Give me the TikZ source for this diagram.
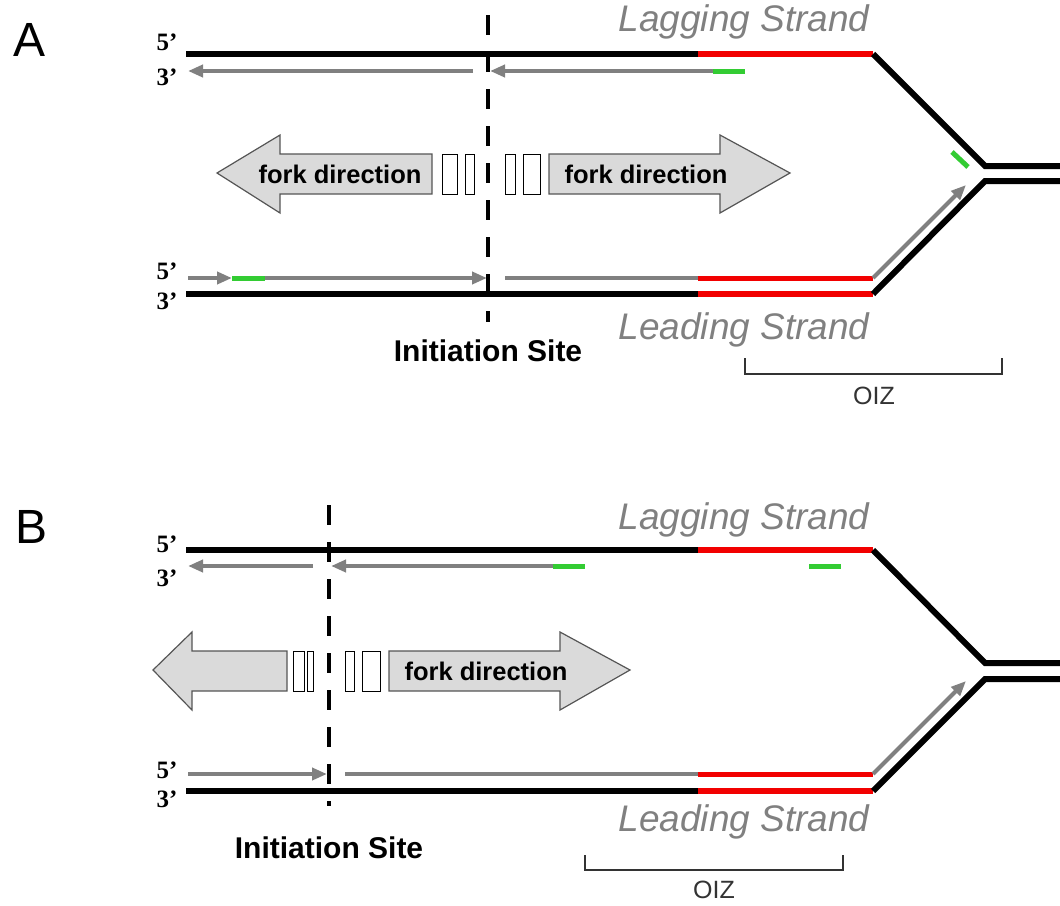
\documentclass[tikz,border=0pt]{standalone}
\usepackage{fontspec}
\setmainfont{Liberation Sans}
\newfontfamily\serifbold{Liberation Serif}
\usetikzlibrary{arrows.meta}
\definecolor{strandgray}{HTML}{808080}
\definecolor{strandred}{HTML}{F20000}
\definecolor{primer}{HTML}{33CC33}
\definecolor{arrowfill}{HTML}{DADADA}
\definecolor{arrowedge}{HTML}{555555}
\tikzset{
  blk/.style={line width=6pt, black, line join=miter},
  redstr/.style={line width=6pt, strandred},
  gry/.style={line width=4pt, strandgray},
  gryarr/.style={gry, -{Triangle[length=15pt,width=12pt]}},
  prim/.style={line width=5pt, primer},
  initline/.style={line width=4pt, black, dash pattern=on 20pt off 17pt},
  forkarr/.style={fill=arrowfill, draw=arrowedge, line width=1.2pt, line join=miter},
  gaprect/.style={fill=white, draw=black, line width=1pt},
  bracket/.style={line width=1.5pt, black!80},
  panel/.style={font=\fontsize{48}{48}\selectfont},
  endlbl/.style={font=\serifbold\bfseries\fontsize{25}{25}\selectfont},
  strandlbl/.style={text=strandgray, font=\itshape\fontsize{37}{37}\selectfont},
  forklbl/.style={font=\bfseries\fontsize{25.5}{25.5}\selectfont},
  initlbl/.style={font=\bfseries\fontsize{30}{30}\selectfont},
  oizlbl/.style={text=black!80, font=\fontsize{25}{25}\selectfont}
}
\begin{document}
\begin{tikzpicture}[x=1pt,y=-1pt]
\useasboundingbox (0,0) rectangle (1060,905);

% ================= Panel A =================
\node[panel] (pA) at (30,40) {A};
\node[endlbl] (a5t) at (167,42) {5’};
\node[endlbl] (a3t) at (167,77) {3’};
\node[endlbl] (a5b) at (167,271) {5’};
\node[endlbl] (a3b) at (167,301) {3’};

% template strands
\draw[blk] (186,54) -- (698,54);
\draw[redstr] (698,54) -- (873,54);
\draw[blk] (873,54) -- (985,166) -- (1060,166);
\draw[blk] (186,294) -- (698,294);
\draw[redstr] (698,294) -- (873,294);
\draw[blk] (873,294) -- (985,181) -- (1060,181);

% lagging nascent strand
\draw[gryarr] (473,71) -- (188,71);
\draw[gryarr] (713,71) -- (490,71);
\draw[prim] (713,71) -- (745,71);
\draw[prim] (952,152) -- (968,167);

% leading nascent strand
\draw[gryarr] (188,278) -- (232,278);
\draw[prim] (232,278) -- (265,278);
\draw[gryarr] (265,278) -- (487,278);
\draw[gry] (505,278) -- (698,278);
\draw[line width=5pt, strandred] (698,278) -- (873,278);
\draw[gryarr] (873,278) -- (966,185);

% fork direction arrows
\draw[forkarr] (217,173) -- (280,135) -- (280,154) -- (432,154) -- (432,194) -- (280,194) -- (280,213) -- cycle;
\draw[gaprect] (442,154) rectangle (457,194);
\draw[gaprect] (465,154) rectangle (474,194);
\draw[gaprect] (505,154) rectangle (515,194);
\draw[gaprect] (523,154) rectangle (540,194);
\draw[forkarr] (549,154) -- (720,154) -- (720,135) -- (790,173) -- (720,213) -- (720,194) -- (549,194) -- cycle;
\node[forklbl] (afl) at (340,174) {fork direction};
\node[forklbl] (afr) at (646,174) {fork direction};

% initiation site
\draw[initline] (488,15) -- (488,322);
\node[initlbl] (ainit) at (488,351) {Initiation Site};

\node[strandlbl] (alag) at (744,22) {Lagging Strand};
\node[strandlbl] (alead) at (744,330) {Leading Strand};

% OIZ
\draw[bracket] (745,358) -- (745,374) -- (1002,374) -- (1002,358);
\node[oizlbl] (aoiz) at (874,396) {OIZ};

% ================= Panel B =================
\node[panel] (pB) at (32,527) {B};
\node[endlbl] (b5t) at (167,544) {5’};
\node[endlbl] (b3t) at (167,578) {3’};
\node[endlbl] (b5b) at (167,770) {5’};
\node[endlbl] (b3b) at (167,799) {3’};

\draw[blk] (186,550) -- (698,550);
\draw[redstr] (698,550) -- (873,550);
\draw[blk] (873,550) -- (985,663) -- (1060,663);
\draw[blk] (186,791) -- (698,791);
\draw[redstr] (698,791) -- (873,791);
\draw[blk] (873,791) -- (985,679) -- (1060,679);

\draw[gryarr] (313,566) -- (188,566);
\draw[gryarr] (553,566) -- (331,566);
\draw[prim] (553,566) -- (585,566);
\draw[prim] (809,566) -- (841,566);

\draw[gryarr] (188,774) -- (327,774);
\draw[gry] (345,774) -- (698,774);
\draw[line width=5pt, strandred] (698,774) -- (873,774);
\draw[gryarr] (873,774) -- (966,681);

\draw[forkarr] (153,670) -- (192,632) -- (192,651) -- (287,651) -- (287,691) -- (192,691) -- (192,710) -- cycle;
\draw[gaprect] (293,651) rectangle (304,691);
\draw[gaprect] (307,651) rectangle (313,691);
\draw[gaprect] (345,651) rectangle (354,691);
\draw[gaprect] (362,651) rectangle (380,691);
\draw[forkarr] (389,651) -- (560,651) -- (560,632) -- (630,670) -- (560,710) -- (560,691) -- (389,691) -- cycle;
\node[forklbl] (bfr) at (486,671) {fork direction};

\draw[initline] (329,505) -- (329,806);
\node[initlbl] (binit) at (329,848) {Initiation Site};

\node[strandlbl] (blag) at (744,520) {Lagging Strand};
\node[strandlbl] (blead) at (744,822) {Leading Strand};

\draw[bracket] (585,855) -- (585,870) -- (843,870) -- (843,855);
\node[oizlbl] (boiz) at (714,890) {OIZ};
\end{tikzpicture}
\end{document}
